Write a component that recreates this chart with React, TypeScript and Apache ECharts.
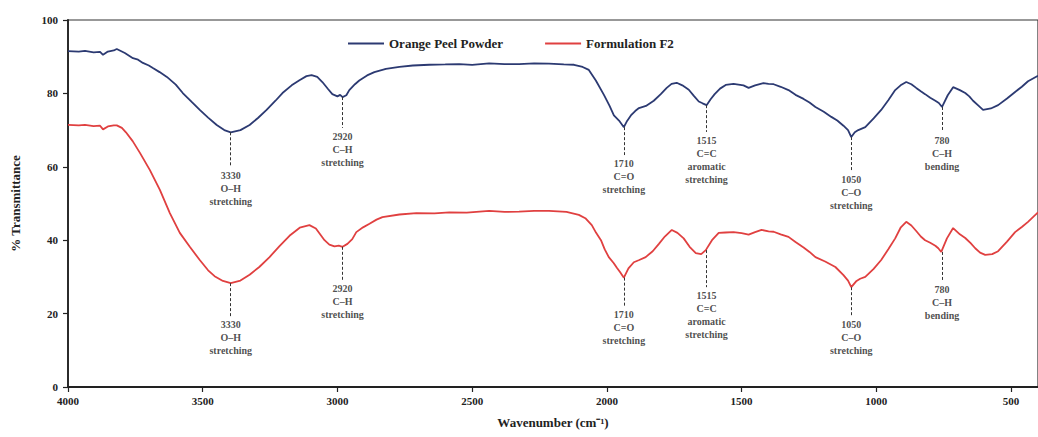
import React, { useEffect, useRef } from "react";
import * as echarts from "echarts";

const FONT = '"Liberation Serif", "Times New Roman", serif';

// FTIR spectra: [wavenumber (cm-1), % transmittance]
const orangePeel: [number, number][] = [
  [4000, 91.5], [3960, 91.4], [3937, 91.6], [3905, 91.2], [3881, 91.3], [3870, 90.5], [3852, 91.4],
  [3830, 91.7], [3819, 92.1], [3789, 91.0], [3759, 89.6], [3740, 89.2], [3722, 88.3], [3700, 87.6],
  [3685, 86.9], [3660, 85.8], [3633, 84.5], [3600, 82.4], [3574, 80.1], [3540, 77.6], [3511, 75.5],
  [3480, 73.4], [3448, 71.4], [3420, 70.0], [3396, 69.4], [3360, 70.0], [3326, 71.4], [3295, 73.3],
  [3263, 75.5], [3230, 78.0], [3204, 80.1], [3170, 82.2], [3141, 83.6], [3115, 84.7], [3096, 85.0],
  [3075, 84.5], [3056, 83.1], [3035, 81.2], [3019, 79.8], [3000, 79.2], [2990, 79.6], [2981, 79.0],
  [2967, 79.5], [2956, 80.9], [2935, 82.5], [2919, 83.5], [2890, 84.9], [2863, 85.8], [2820, 86.7],
  [2770, 87.2], [2720, 87.6], [2659, 87.8], [2600, 87.9], [2548, 88.0], [2500, 87.8], [2437, 88.2],
  [2380, 88.0], [2326, 88.0], [2270, 88.2], [2215, 88.1], [2160, 87.9], [2122, 87.8], [2090, 87.2],
  [2067, 86.4], [2041, 83.5], [2011, 79.6], [1990, 76.6], [1974, 74.0], [1955, 72.6], [1937, 70.8],
  [1925, 72.5], [1911, 74.0], [1895, 75.2], [1881, 76.0], [1855, 76.6], [1826, 78.0], [1800, 79.8],
  [1778, 81.5], [1760, 82.6], [1741, 82.9], [1720, 82.2], [1696, 81.0], [1678, 79.4], [1659, 77.8],
  [1645, 77.3], [1630, 76.8], [1615, 78.4], [1600, 79.8], [1580, 81.3], [1559, 82.3], [1530, 82.6],
  [1493, 82.2], [1474, 81.5], [1450, 82.2], [1419, 82.8], [1400, 82.6], [1381, 82.5], [1355, 81.8],
  [1326, 80.9], [1300, 79.6], [1270, 78.5], [1248, 77.5], [1226, 76.3], [1195, 75.0], [1167, 73.6],
  [1145, 72.6], [1122, 71.2], [1105, 70.0], [1093, 68.1], [1080, 69.4], [1067, 70.0], [1041, 70.8],
  [1010, 73.2], [982, 75.5], [955, 78.2], [930, 80.9], [910, 82.2], [889, 83.1], [870, 82.5],
  [852, 81.5], [835, 80.6], [819, 79.8], [800, 78.8], [781, 78.0], [768, 77.4], [756, 76.3],
  [735, 79.5], [715, 81.7], [690, 80.9], [670, 80.1], [655, 79.2], [641, 78.0], [620, 76.6],
  [604, 75.5], [575, 75.9], [548, 76.8], [515, 78.6], [485, 80.4], [460, 81.8], [437, 83.3],
  [400, 84.8],
];

const formulationF2: [number, number][] = [
  [4000, 71.4], [3960, 71.3], [3937, 71.4], [3905, 71.1], [3881, 71.2], [3870, 70.2], [3852, 71.0],
  [3830, 71.3], [3819, 71.3], [3800, 70.6], [3785, 69.4], [3760, 67.0], [3733, 63.8], [3696, 59.1],
  [3659, 53.7], [3622, 47.4], [3585, 42.0], [3548, 38.2], [3511, 34.6], [3480, 31.8], [3456, 30.2],
  [3425, 28.9], [3396, 28.3], [3360, 29.0], [3326, 30.6], [3290, 32.7], [3252, 35.4], [3215, 38.4],
  [3178, 41.2], [3140, 43.4], [3104, 44.1], [3080, 43.2], [3048, 40.0], [3030, 38.8], [3011, 38.3],
  [2995, 38.5], [2981, 38.2], [2963, 39.0], [2945, 40.3], [2930, 42.2], [2905, 43.5], [2881, 44.5],
  [2855, 45.6], [2833, 46.3], [2770, 47.0], [2707, 47.4], [2640, 47.3], [2585, 47.6], [2520, 47.5],
  [2437, 48.0], [2380, 47.7], [2326, 47.8], [2270, 48.0], [2215, 48.0], [2150, 47.7], [2104, 46.9],
  [2080, 46.0], [2056, 44.1], [2040, 42.0], [2022, 40.0], [2008, 37.5], [1993, 35.4], [1975, 33.8],
  [1963, 32.5], [1950, 31.2], [1937, 29.8], [1920, 32.3], [1900, 34.0], [1880, 34.6], [1856, 35.4],
  [1830, 37.0], [1807, 39.0], [1785, 41.0], [1759, 42.8], [1738, 42.0], [1715, 40.5], [1693, 38.2],
  [1670, 36.5], [1650, 36.2], [1633, 37.3], [1610, 40.0], [1585, 42.0], [1560, 42.1], [1530, 42.2],
  [1500, 41.9], [1474, 41.5], [1450, 42.2], [1426, 42.8], [1400, 42.4], [1381, 42.3], [1355, 41.6],
  [1326, 40.9], [1300, 39.5], [1270, 38.0], [1248, 36.8], [1226, 35.4], [1190, 34.2], [1152, 32.7],
  [1122, 30.5], [1105, 29.0], [1093, 27.2], [1075, 28.8], [1060, 29.5], [1041, 30.0], [1010, 32.2],
  [982, 34.6], [955, 37.6], [930, 40.5], [910, 43.4], [889, 45.0], [870, 44.0], [852, 42.5],
  [835, 41.0], [819, 40.0], [800, 39.3], [781, 38.5], [770, 37.8], [759, 36.8], [738, 40.5],
  [715, 43.3], [690, 41.6], [670, 40.6], [650, 39.2], [633, 37.8], [615, 36.6], [596, 36.0],
  [570, 36.2], [548, 37.0], [515, 39.6], [485, 42.2], [460, 43.6], [437, 45.0], [400, 47.6],
];

const xTicks = [500, 1000, 1500, 2000, 2500, 3000, 3500, 4000];

// Peak annotations: [wavenumber position, curve dip, line end, label]
const orangeNotes: [number, number, number, string][] = [
  [3396, 69.4, 59.9, "3330\nO–H\nstretching"],
  [2981, 79.0, 70.6, "2920\nC–H\nstretching"],
  [1937, 70.8, 63.2, "1710\nC=O\nstretching"],
  [1630, 76.8, 69.5, "1515\nC=C\naromatic\nstretching"],
  [1093, 68.1, 58.9, "1050\nC–O\nstretching"],
  [756, 76.3, 69.5, "780\nC–H\nbending"],
];
const f2Notes: [number, number, number, string][] = [
  [3396, 28.3, 19.3, "3330\nO–H\nstretching"],
  [2981, 38.2, 29.2, "2920\nC–H\nstretching"],
  [1937, 29.8, 22.1, "1710\nC=O\nstretching"],
  [1630, 37.3, 27.2, "1515\nC=C\naromatic\nstretching"],
  [1093, 27.2, 19.3, "1050\nC–O\nstretching"],
  [756, 36.8, 28.9, "780\nC–H\nbending"],
];

const BLUE = "#2c3a72";
const RED = "#e04040";

function notesSeries(notes: [number, number, number, string][], name: string) {
  return {
    name: name + "-notes",
    type: "scatter",
    symbolSize: 0,
    silent: true,
    z: 1,
    data: notes.map((n) => ({ value: [n[0], n[2] - 0.6], text: n[3] })),
    label: {
      show: true,
      position: "bottom",
      distance: 0,
      formatter: (p: any) => p.data.text,
      fontFamily: FONT,
      fontWeight: "bold",
      fontSize: 10,
      lineHeight: 13,
      color: "#222",
      align: "center",
    },
    markLine: {
      silent: true,
      symbol: "none",
      label: { show: false },
      lineStyle: { type: [3, 2], color: "#333", width: 1 },
      data: notes.map((n) => [
        { coord: [n[0], n[1]] },
        { coord: [n[0], n[2]] },
      ]),
    },
  };
}

export default function App() {
  const ref = useRef<HTMLDivElement>(null);
  useEffect(() => {
    if (!ref.current) return;
    const chart = echarts.init(ref.current, null, { renderer: "svg" });
    chart.setOption({
      animation: false,
      backgroundColor: "#ffffff",
      legend: {
        data: [
          { name: "Orange Peel Powder", itemStyle: { color: BLUE } },
          { name: "Formulation F2", itemStyle: { color: RED } },
        ],
        left: 343,
        top: 32,
        icon: "rect",
        itemWidth: 36,
        itemHeight: 2,
        itemGap: 42,
        textStyle: { fontFamily: FONT, fontWeight: "bold", fontSize: 13, color: "#222" },
      },
      grid: {
        left: 68,
        top: 20,
        width: 972,
        height: 367,
        show: true,
        borderColor: "#333",
        borderWidth: 1.2,
      },
      xAxis: {
        type: "value",
        inverse: true,
        min: 400,
        max: 4000,
        name: "Wavenumber (cm⁻¹)",
        nameLocation: "middle",
        nameGap: 29,
        nameTextStyle: { fontFamily: FONT, fontWeight: "bold", fontSize: 13, color: "#222" },
        axisLine: { lineStyle: { color: "#222", width: 1.8 } },
        axisTick: { show: true, customValues: xTicks, length: 5, lineStyle: { color: "#222", width: 1.2 } },
        axisLabel: {
          customValues: xTicks,
          formatter: (v: number) => String(v),
          fontFamily: FONT,
          fontWeight: "bold",
          fontSize: 11,
          color: "#222",
          margin: 8,
        },
        splitLine: { show: false },
      },
      yAxis: {
        type: "value",
        min: 0,
        max: 100,
        interval: 20,
        name: "% Transmittance",
        nameLocation: "middle",
        nameGap: 46,
        nameTextStyle: { fontFamily: FONT, fontWeight: "bold", fontSize: 13, color: "#222" },
        axisLine: { show: true, lineStyle: { color: "#222", width: 1.8 } },
        axisTick: { show: true, length: 5, lineStyle: { color: "#222", width: 1.2 } },
        axisLabel: { fontFamily: FONT, fontWeight: "bold", fontSize: 11, color: "#222", margin: 10 },
        splitLine: { show: false },
      },
      series: [
        {
          name: "Orange Peel Powder",
          type: "line",
          data: orangePeel,
          showSymbol: false,
          color: BLUE,
          lineStyle: { color: BLUE, width: 1.8 },
          z: 3,
        },
        {
          name: "Formulation F2",
          type: "line",
          data: formulationF2,
          showSymbol: false,
          color: RED,
          lineStyle: { color: RED, width: 1.8 },
          z: 3,
        },
        notesSeries(orangeNotes, "op"),
        notesSeries(f2Notes, "f2"),
      ],
    });
    return () => chart.dispose();
  }, []);
  return (
    <div
      ref={ref}
      style={{ position: "fixed", left: 0, top: 0, width: 1038, height: 437, background: "#fff" }}
    />
  );
}
